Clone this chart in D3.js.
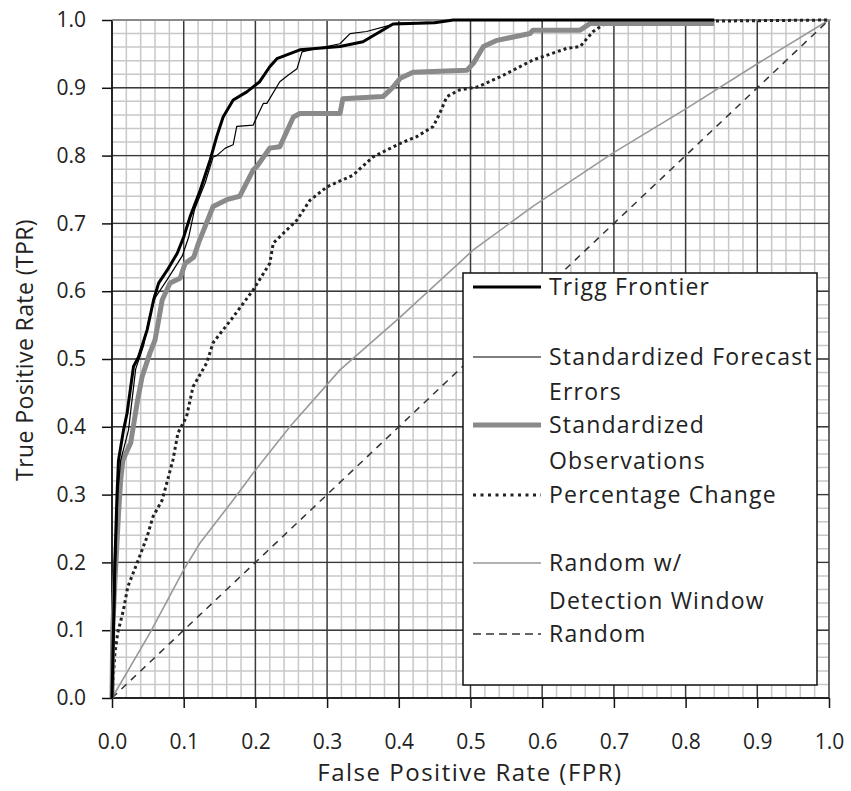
<!DOCTYPE html>
<html><head><meta charset="utf-8">
<script src="https://cdn.jsdelivr.net/npm/d3@7"></script>
<style>body{margin:0;background:#fff}svg{display:block}text{font-family:"Open Sans",Lato,sans-serif;fill:#222}</style>
</head><body>
<script>
const tickValues = [0,0.1,0.2,0.3,0.4,0.5,0.6,0.7,0.8,0.9,1.0];
const seriesNames = ["Trigg Frontier","Standardized Forecast Errors","Standardized Observations","Percentage Change","Random w/ Detection Window","Random"];

const triggFPR = [0,0.002,0.004,0.007,0.009,0.016,0.021,0.030,0.037,0.049,0.058,0.065,0.077,0.091,0.100,0.109,0.123,0.137,0.146,0.155,0.169,0.188,0.206,0.220,0.230,0.262,0.318,0.350,0.392,0.450,0.476,0.840];
const triggTPR = [0,0.100,0.200,0.300,0.350,0.395,0.420,0.489,0.503,0.543,0.587,0.612,0.631,0.656,0.680,0.710,0.749,0.794,0.828,0.857,0.882,0.894,0.909,0.931,0.943,0.956,0.961,0.968,0.994,0.996,1.000,1.000];

const sfeFPR = [0,0.003,0.005,0.008,0.012,0.023,0.033,0.044,0.053,0.060,0.077,0.098,0.107,0.115,0.130,0.141,0.146,0.158,0.169,0.174,0.197,0.202,0.211,0.216,0.234,0.246,0.258,0.265,0.277,0.318,0.332,0.355,0.383,0.397,0.450,0.480,0.840];
const sfeTPR = [0,0.100,0.200,0.300,0.350,0.395,0.485,0.520,0.565,0.590,0.617,0.652,0.680,0.720,0.760,0.798,0.800,0.811,0.816,0.843,0.845,0.857,0.877,0.877,0.909,0.919,0.928,0.953,0.956,0.965,0.980,0.983,0.991,0.995,0.997,1.000,1.000];

const soFPR = [0,0.001,0.003,0.006,0.009,0.012,0.015,0.019,0.026,0.035,0.042,0.053,0.060,0.065,0.070,0.081,0.095,0.102,0.114,0.121,0.141,0.160,0.178,0.197,0.202,0.220,0.234,0.253,0.262,0.318,0.322,0.378,0.392,0.402,0.420,0.495,0.504,0.518,0.537,0.583,0.587,0.653,0.667,0.840];
const soTPR = [0,0.100,0.149,0.210,0.270,0.320,0.350,0.360,0.376,0.435,0.474,0.509,0.528,0.557,0.587,0.612,0.619,0.641,0.650,0.672,0.725,0.735,0.740,0.779,0.784,0.811,0.813,0.857,0.862,0.862,0.884,0.887,0.901,0.914,0.923,0.926,0.936,0.961,0.970,0.980,0.985,0.985,0.995,0.995];

const pcFPR = [0,0.004,0.008,0.016,0.022,0.035,0.049,0.057,0.070,0.085,0.092,0.104,0.113,0.132,0.141,0.169,0.197,0.220,0.225,0.258,0.276,0.300,0.336,0.364,0.402,0.425,0.448,0.457,0.467,0.485,0.509,0.541,0.587,0.634,0.653,0.671,0.685,0.700,1.000];
const pcTPR = [0,0.066,0.096,0.130,0.164,0.199,0.238,0.267,0.292,0.351,0.391,0.415,0.459,0.494,0.524,0.562,0.602,0.641,0.671,0.705,0.734,0.754,0.771,0.798,0.818,0.828,0.843,0.862,0.887,0.897,0.901,0.916,0.941,0.958,0.961,0.983,0.993,0.997,1.000];

const rdwFPR = [0,0.053,0.100,0.123,0.169,0.197,0.248,0.318,0.400,0.504,0.587,0.699,0.802,0.904,1.000];
const rdwTPR = [0,0.096,0.189,0.229,0.292,0.332,0.400,0.484,0.560,0.661,0.725,0.804,0.870,0.938,1.000];

const randFPR = [0,1];
const randTPR = [0,1];

const W = 851, H = 791;
const L = 112, R = 829, T = 20, B = 698;
const svg = d3.select("body").append("svg").attr("width", W).attr("height", H);
const x = d3.scaleLinear().domain([0,1]).range([L,R]);
const y = d3.scaleLinear().domain([0,1]).range([B,T]);

// minor grid
const minor = d3.range(0,1.0001,0.02).map(v=>+v.toFixed(2));
const g = svg.append("g");
g.selectAll(".mx").data(minor).join("line")
  .attr("x1",d=>x(d)).attr("x2",d=>x(d)).attr("y1",T).attr("y2",B)
  .attr("stroke","#c8c8c8").attr("stroke-width",1.5);
g.selectAll(".my").data(minor).join("line")
  .attr("y1",d=>y(d)).attr("y2",d=>y(d)).attr("x1",L).attr("x2",R)
  .attr("stroke","#c8c8c8").attr("stroke-width",1.5);
// major grid
g.selectAll(".Mx").data(tickValues).join("line")
  .attr("x1",d=>x(d)).attr("x2",d=>x(d)).attr("y1",T).attr("y2",B)
  .attr("stroke","#3a3a3a").attr("stroke-width",1.4);
g.selectAll(".My").data(tickValues).join("line")
  .attr("y1",d=>y(d)).attr("y2",d=>y(d)).attr("x1",L).attr("x2",R)
  .attr("stroke","#3a3a3a").attr("stroke-width",1.4);

// axes
const xAxis = d3.axisBottom(x).tickValues(tickValues).tickFormat(d3.format(".1f")).tickSize(10).tickPadding(26);
const yAxis = d3.axisLeft(y).tickValues(tickValues).tickFormat(d3.format(".1f")).tickSize(10).tickPadding(16);
const gx = svg.append("g").attr("transform",`translate(0,${B})`).call(xAxis);
const gy = svg.append("g").attr("transform",`translate(${L},0)`).call(yAxis);
[gx,gy].forEach(a=>{
  a.select(".domain").attr("stroke","#111").attr("stroke-width",1.5);
  a.selectAll(".tick line").attr("stroke","#111").attr("stroke-width",1.5);
  a.selectAll("text").style("font-family","'Open Sans', sans-serif").style("font-size","21px").attr("fill","#222");
});
gy.select(".domain").attr("d",`M0,${B}V${T}`);
gx.select(".domain").attr("d",`M${L},0H${R}`);

// top border
svg.append("line").attr("x1",L).attr("x2",R+2).attr("y1",T).attr("y2",T).attr("stroke","#999").attr("stroke-width",1.5);

const line = d3.line().x(d=>x(d[0])).y(d=>y(d[1]));
const zip = (a,b)=>a.map((v,i)=>[v,b[i]]);
const styles = [
  {fpr:rdwFPR,tpr:rdwTPR,stroke:"#999",w:1.6,dash:null},
  {fpr:randFPR,tpr:randTPR,stroke:"#333",w:1.5,dash:"7 6"},
  {fpr:pcFPR,tpr:pcTPR,stroke:"#222",w:3,dash:"3 3"},
  {fpr:soFPR,tpr:soTPR,stroke:"#8a8a8a",w:5,dash:null},
  {fpr:sfeFPR,tpr:sfeTPR,stroke:"#000",w:1.2,dash:null},
  {fpr:triggFPR,tpr:triggTPR,stroke:"#000",w:3,dash:null}
];
styles.forEach(s=>{
  svg.append("path").attr("d",line(zip(s.fpr,s.tpr))).attr("fill","none")
    .attr("stroke",s.stroke).attr("stroke-width",s.w).attr("stroke-linejoin","round")
    .attr("stroke-dasharray",s.dash);
});

// legend
const lg = svg.append("g");
lg.append("rect").attr("x",463).attr("y",273).attr("width",354).attr("height",412)
  .attr("fill","#fff").attr("stroke","#111").attr("stroke-width",1.5);
const legendItems = [
  {lines:["Trigg Frontier"], ys:[287], ly:287, stroke:"#000", w:3, dash:null},
  {lines:["Standardized Forecast","Errors"], ys:[357,392], ly:357, stroke:"#000", w:1.2, dash:null},
  {lines:["Standardized","Observations"], ys:[425,461], ly:425, stroke:"#8a8a8a", w:5, dash:null},
  {lines:["Percentage Change"], ys:[495], ly:495, stroke:"#222", w:3, dash:"3 4.5"},
  {lines:["Random w/","Detection Window"], ys:[563,601], ly:563, stroke:"#999", w:1.6, dash:null},
  {lines:["Random"], ys:[634], ly:634, stroke:"#333", w:1.5, dash:"8 5"}
];
legendItems.forEach(it=>{
  lg.append("line").attr("x1",473).attr("x2",541).attr("y1",it.ly).attr("y2",it.ly)
    .attr("stroke",it.stroke).attr("stroke-width",it.w).attr("stroke-dasharray",it.dash);
  it.lines.forEach((t,i)=>{
    lg.append("text").attr("x",549).attr("y",it.ys[i]).attr("dy","0.35em")
      .style("font-size","23px").style("letter-spacing","1.2px").text(t);
  });
});

// axis titles
svg.append("text").attr("x",470).attr("y",781).attr("text-anchor","middle")
  .style("font-size","24px").style("letter-spacing","1.5px").text("False Positive Rate (FPR)");
svg.append("text").attr("transform","translate(33,350) rotate(-90)").attr("text-anchor","middle")
  .style("font-size","23px").style("letter-spacing","0.4px").text("True Positive Rate (TPR)");
</script>
</body></html>
